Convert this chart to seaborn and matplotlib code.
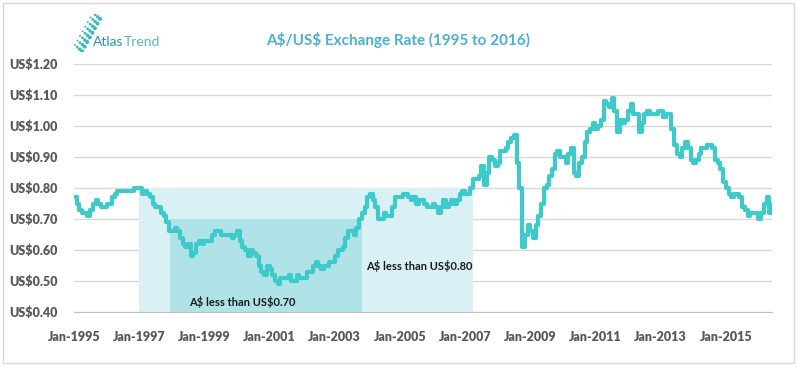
import matplotlib
matplotlib.use("Agg")
import matplotlib.pyplot as plt
import numpy as np
import pandas as pd
import seaborn as sns
from matplotlib.patches import Rectangle

# ------------------- data (monthly A$/US$)

rate_1995 = [0.77, 0.75, 0.73, 0.72, 0.72, 0.71, 0.73, 0.75, 0.76, 0.75, 0.74, 0.74]
rate_1996 = [0.75, 0.75, 0.77, 0.78, 0.79, 0.79, 0.79, 0.79, 0.79, 0.79, 0.80, 0.80]
rate_1997 = [0.80, 0.78, 0.79, 0.78, 0.77, 0.75, 0.74, 0.74, 0.72, 0.71, 0.69, 0.66]
rate_1998 = [0.66, 0.67, 0.66, 0.64, 0.62, 0.61, 0.62, 0.58, 0.59, 0.62, 0.63, 0.62]
rate_1999 = [0.63, 0.63, 0.63, 0.65, 0.66, 0.66, 0.65, 0.65, 0.65, 0.65, 0.64, 0.65]
rate_2000 = [0.66, 0.63, 0.61, 0.60, 0.58, 0.60, 0.59, 0.58, 0.55, 0.53, 0.52, 0.55]
rate_2001 = [0.54, 0.52, 0.50, 0.49, 0.51, 0.51, 0.51, 0.52, 0.50, 0.50, 0.52, 0.51]
rate_2002 = [0.51, 0.51, 0.53, 0.53, 0.55, 0.56, 0.55, 0.54, 0.55, 0.55, 0.56, 0.56]
rate_2003 = [0.58, 0.60, 0.60, 0.61, 0.64, 0.66, 0.66, 0.65, 0.67, 0.70, 0.72, 0.74]
rate_2004 = [0.77, 0.78, 0.76, 0.74, 0.70, 0.70, 0.72, 0.71, 0.71, 0.74, 0.77, 0.77]
rate_2005 = [0.77, 0.78, 0.78, 0.77, 0.76, 0.77, 0.75, 0.76, 0.76, 0.75, 0.74, 0.74]
rate_2006 = [0.75, 0.74, 0.72, 0.74, 0.76, 0.74, 0.75, 0.76, 0.75, 0.76, 0.78, 0.79]
rate_2007 = [0.78, 0.78, 0.80, 0.83, 0.83, 0.84, 0.87, 0.81, 0.85, 0.90, 0.89, 0.87]
rate_2008 = [0.88, 0.92, 0.92, 0.93, 0.95, 0.96, 0.97, 0.88, 0.80, 0.61, 0.65, 0.68]
rate_2009 = [0.66, 0.64, 0.68, 0.71, 0.75, 0.80, 0.81, 0.84, 0.86, 0.91, 0.92, 0.90]
rate_2010 = [0.90, 0.88, 0.91, 0.93, 0.85, 0.84, 0.88, 0.90, 0.95, 0.98, 0.99, 1.01]
rate_2011 = [0.99, 1.00, 1.02, 1.08, 1.07, 1.06, 1.09, 1.05, 0.98, 1.02, 1.01, 1.02]
rate_2012 = [1.05, 1.07, 1.04, 1.04, 0.98, 1.01, 1.04, 1.05, 1.04, 1.04, 1.04, 1.05]
rate_2013 = [1.05, 1.03, 1.04, 1.04, 0.99, 0.94, 0.91, 0.90, 0.93, 0.95, 0.93, 0.89]
rate_2014 = [0.88, 0.89, 0.91, 0.93, 0.93, 0.94, 0.94, 0.93, 0.89, 0.88, 0.86, 0.82]
rate_2015 = [0.80, 0.78, 0.77, 0.78, 0.78, 0.77, 0.74, 0.73, 0.71, 0.72, 0.72, 0.72]
rate_2016 = [0.70, 0.72, 0.75, 0.77, 0.72, 0.75]

tick_years = [1995, 1997, 1999, 2001, 2003, 2005, 2007, 2009, 2011, 2013, 2015]
y_ticks = [0.40, 0.50, 0.60, 0.70, 0.80, 0.90, 1.00, 1.10, 1.20]

band_80 = ("1997-01-01", "2007-04-01", 0.80, "A$ less than US$0.80")
band_70 = ("1997-12-15", "2003-11-01", 0.70, "A$ less than US$0.70")

rates = (rate_1995 + rate_1996 + rate_1997 + rate_1998 + rate_1999 + rate_2000
         + rate_2001 + rate_2002 + rate_2003 + rate_2004 + rate_2005 + rate_2006
         + rate_2007 + rate_2008 + rate_2009 + rate_2010 + rate_2011 + rate_2012
         + rate_2013 + rate_2014 + rate_2015 + rate_2016)
df = pd.DataFrame({
    "date": pd.date_range("1995-01-01", periods=len(rates), freq="MS"),
    "rate": rates,
})

# ------------------- plot

sns.set_style("white")
plt.rcParams["font.family"] = ["Lato", "DejaVu Sans"]
plt.rcParams["text.parse_math"] = False

LINE = "#3ECACA"
GRID = "#D9D9D9"
TEXT = "#595959"

fig = plt.figure(figsize=(7.97, 3.67), dpi=100)
ax = fig.add_axes([74 / 797, 1 - 312 / 367, (772 - 74) / 797, (312 - 64) / 367])

# shaded "less than" bands
for start, end, top, label in (band_80, band_70):
    ax.fill_between([pd.Timestamp(start), pd.Timestamp(end)], 0.40, top,
                    color="#D9F0F5" if top == 0.80 else "#AFE3E7", lw=0, zorder=1)

ax.text(pd.Timestamp("2005-08-01"), 0.548, band_80[3], ha="center", va="center",
        fontsize=8, fontweight="bold", color="#1a1a1a", zorder=4)
ax.text(pd.Timestamp("2000-03-01"), 0.432, band_70[3], ha="center", va="center",
        fontsize=8, fontweight="bold", color="#1a1a1a", zorder=4)

sns.lineplot(data=df, x="date", y="rate", ax=ax, color=LINE, lw=3,
             drawstyle="steps-post", zorder=3)

ax.set_ylim(0.40, 1.20)
ax.set_xlim(pd.Timestamp("1995-01-01"), pd.Timestamp("2016-06-01"))
ax.grid(axis="y", color=GRID, lw=1, zorder=0)
ax.set_axisbelow(True)
for side in ("left", "right", "top"):
    ax.spines[side].set_visible(False)
ax.spines["bottom"].set_color("#BFBFBF")
ax.tick_params(axis="x", length=5, width=1, color="#BFBFBF", direction="out", pad=9)
ax.tick_params(axis="y", length=0, pad=12)
ax.set_yticks(y_ticks)
ax.set_yticklabels([f"US${v:.2f}" for v in y_ticks], fontweight="heavy",
                   fontsize=9, color=TEXT)
ax.set_xticks([pd.Timestamp(f"{y}-01-01") for y in tick_years])
ax.set_xticklabels([f"Jan-{y}" for y in tick_years], fontweight="heavy",
                   fontsize=9, color=TEXT)
ax.set_xlabel("")
ax.set_ylabel("")

fig.text(0.4994, 1 - 40 / 367, "A$/US$ Exchange Rate (1995 to 2016)",
         ha="center", va="center", fontsize=11, fontweight="bold", color="#4AAFD5")

# logo
atlas = fig.text(93 / 797, 1 - 42 / 367, "Atlas", ha="left", va="center",
                 fontsize=10, color="#2A97A6")
fig.canvas.draw()
bb = atlas.get_window_extent()
fig.text(bb.x1 / fig.bbox.width, 1 - 42 / 367, "Trend", ha="left", va="center",
         fontsize=10, color="#52BAC2")
logo = fig.add_axes([74 / 797, 1 - 52 / 367, 30 / 797, 38 / 367])
logo.set_xlim(0, 1)
logo.set_ylim(0, 1)
logo.axis("off")
for t in np.linspace(0, 1, 8):
    xs = 0.15 + 0.6 * t + np.linspace(-0.12, 0.12, 4)
    ys = 0.1 + 0.85 * t + np.linspace(0.08, -0.08, 4)
    logo.scatter(xs, ys, s=np.linspace(2, 8, 4), color="#3BB8C0", lw=0)

# outer frame
fig.patches.append(Rectangle((3 / 797, 4 / 367), 791 / 797, 360 / 367,
                             transform=fig.transFigure, fill=False,
                             edgecolor="#D9D9D9", lw=1))

fig.savefig("out.png", dpi=100)
